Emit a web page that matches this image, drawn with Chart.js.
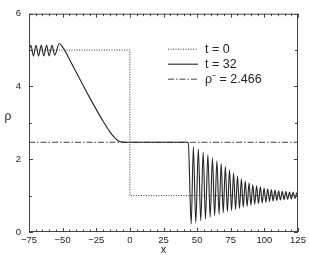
<!DOCTYPE html>
<html>
<head>
<meta charset="utf-8">
<script src="https://cdn.jsdelivr.net/npm/chart.js@4/dist/chart.umd.min.js"></script>
<style>
  html, body { margin: 0; padding: 0; background: #fff; }
  #wrap { width: 309px; height: 255px; }
</style>
</head>
<body>
<div id="wrap"><canvas id="rhoChart"></canvas></div>
<script>
// --- data ---
const xTicks = [-75, -50, -25, 0, 25, 50, 75, 100, 125];
const yTicks = [0, 2, 4, 6];

// initial step, t = 0
const t0X = [-75, 0, 0, 125];
const t0Rho = [5, 5, 1, 1];

// plateau level
const rhoBar = 2.466;
const rhoBarX = [-75, 125];

// t = 32 profile (extrema and bends)
const t32X = [
  -75, -73.6, -71.7, -69.8, -67.9, -65.9, -64.0, -61.9, -60.0, -57.9, -55.9,
  -52.5, -50, -47, -44, -40, -35, -30, -25, -20, -15, -12, -9.5, -7,
  0, 20, 42, 43.4,
  45.6, 47.2, 49.0, 50.9, 52.7, 54.5, 56.2, 58.0, 59.7, 61.4, 63.0, 64.7,
  66.3, 67.9, 69.4, 71.0, 72.5, 74.1, 75.6, 77.1, 78.6, 80.0, 81.5, 82.9,
  84.3, 85.8, 87.2, 88.6, 90.0, 91.4, 92.8, 94.2, 95.6, 97.0, 98.4, 99.8,
  101.1, 102.5, 103.8, 105.2, 106.5, 107.9, 109.2, 110.6, 111.9, 113.3,
  114.6, 116.0, 117.3, 118.7, 120.0, 121.4, 122.7, 124.1, 125
];
const t32Rho = [
  4.98, 5.13, 4.84, 5.13, 4.84, 5.13, 4.84, 5.13, 4.84, 5.13, 4.86,
  5.18, 5.08, 4.9, 4.68, 4.4, 4.05, 3.7, 3.37, 3.05, 2.76, 2.62, 2.53, 2.48,
  2.466, 2.466, 2.466, 2.45,
  0.22, 2.34, 0.26, 2.28, 0.31, 2.2, 0.36, 2.12, 0.41, 2.04, 0.45, 1.96,
  0.49, 1.88, 0.53, 1.8, 0.56, 1.71, 0.59, 1.62, 0.62, 1.54, 0.65, 1.46,
  0.68, 1.4, 0.71, 1.35, 0.74, 1.3, 0.76, 1.27, 0.78, 1.24, 0.8, 1.21,
  0.82, 1.19, 0.84, 1.17, 0.85, 1.15, 0.87, 1.13, 0.88, 1.12,
  0.89, 1.11, 0.9, 1.1, 0.91, 1.09, 0.92, 1.08, 1.0
];

const pts = (xs, ys) => xs.map((v, i) => ({ x: v, y: ys[i] }));
const lineCol = '#222';
const axisCol = '#444';
const font = "'Liberation Sans', Arial, sans-serif";

// box, inward ticks, axis titles
const frame = {
  id: 'frame',
  afterDatasetsDraw(chart) {
    const { ctx, chartArea: a, scales: { x, y } } = chart;
    ctx.save();
    ctx.strokeStyle = axisCol;
    ctx.lineWidth = 1;
    ctx.strokeRect(a.left + 0.5, a.top + 0.5, a.right - a.left - 1, a.bottom - a.top - 1);
    ctx.beginPath();
    for (let v = -75; v <= 125; v += 5) {
      const px = Math.round(x.getPixelForValue(v)) + 0.5;
      const len = v % 25 === 0 ? 4 : 2.5;
      ctx.moveTo(px, a.bottom); ctx.lineTo(px, a.bottom - len);
      ctx.moveTo(px, a.top); ctx.lineTo(px, a.top + len);
    }
    for (let v = 0; v <= 6; v += 1) {
      const py = Math.round(y.getPixelForValue(v)) + 0.5;
      const len = v % 2 === 0 ? 4 : 3;
      ctx.moveTo(a.left, py); ctx.lineTo(a.left + len, py);
      ctx.moveTo(a.right, py); ctx.lineTo(a.right - len, py);
    }
    ctx.stroke();

    ctx.fillStyle = '#222';
    ctx.font = '11px ' + font;
    ctx.textAlign = 'center';
    ctx.textBaseline = 'middle';
    ctx.fillText('x', (a.left + a.right) / 2, 250);
    ctx.font = '12px ' + font;
    ctx.fillText('ρ', 8, 117);
    ctx.restore();
  }
};

// legend inside the plot, upper right
const innerLegend = {
  id: 'innerLegend',
  afterDraw(chart) {
    const { ctx, chartArea: a } = chart;
    ctx.save();
    ctx.font = '12.5px ' + font;
    ctx.textBaseline = 'middle';
    ctx.textAlign = 'left';
    const x0 = a.left + 139, x1 = a.left + 169, tx = a.left + 176;
    chart.data.datasets.forEach((ds, i) => {
      const yy = a.top + 35 + i * 15 + 0.5;
      ctx.strokeStyle = ds.borderColor;
      ctx.lineWidth = ds.borderWidth;
      ctx.setLineDash(ds.borderDash || []);
      ctx.beginPath();
      ctx.moveTo(x0, yy);
      ctx.lineTo(x1, yy);
      ctx.stroke();
      ctx.setLineDash([]);
      ctx.fillStyle = '#222';
      ctx.fillText(ds.label, tx, yy);
    });
    ctx.restore();
  }
};

new Chart(document.getElementById('rhoChart'), {
  type: 'scatter',
  data: {
    datasets: [
      {
        label: 't = 0',
        data: pts(t0X, t0Rho),
        showLine: true,
        borderColor: '#333',
        borderWidth: 1,
        borderDash: [1, 1.5],
        pointRadius: 0,
        tension: 0
      },
      {
        label: 't = 32',
        data: pts(t32X, t32Rho),
        showLine: true,
        borderColor: lineCol,
        borderWidth: 1.1,
        pointRadius: 0,
        cubicInterpolationMode: 'monotone'
      },
      {
        label: 'ρ\u207B = ' + rhoBar,
        data: pts(rhoBarX, rhoBarX.map(() => rhoBar)),
        showLine: true,
        borderColor: '#444',
        borderWidth: 1,
        borderDash: [6, 2, 1.5, 2],
        pointRadius: 0
      }
    ]
  },
  options: {
    responsive: true,
    maintainAspectRatio: false,
    animation: false,
    layout: { padding: { top: 7, right: 11, bottom: 0, left: 0 } },
    plugins: {
      legend: { display: false },
      tooltip: { enabled: false }
    },
    scales: {
      x: {
        type: 'linear',
        min: -75,
        max: 125,
        afterBuildTicks: s => { s.ticks = xTicks.map(v => ({ value: v })); },
        afterFit: s => { s.height = 23; },
        grid: { display: false, drawTicks: false },
        border: { display: false },
        ticks: {
          padding: 3,
          color: '#222',
          maxRotation: 0,
          font: { family: font, size: 9.5 },
          callback: v => (v < 0 ? '\u2212' + Math.abs(v) : String(v))
        }
      },
      y: {
        type: 'linear',
        min: 0,
        max: 6,
        afterBuildTicks: s => { s.ticks = yTicks.map(v => ({ value: v })); },
        afterFit: s => { s.width = 29; },
        grid: { display: false, drawTicks: false },
        border: { display: false },
        ticks: {
          padding: 8,
          color: '#222',
          font: { family: font, size: 9.5 }
        }
      }
    }
  },
  plugins: [frame, innerLegend]
});
</script>
</body>
</html>
